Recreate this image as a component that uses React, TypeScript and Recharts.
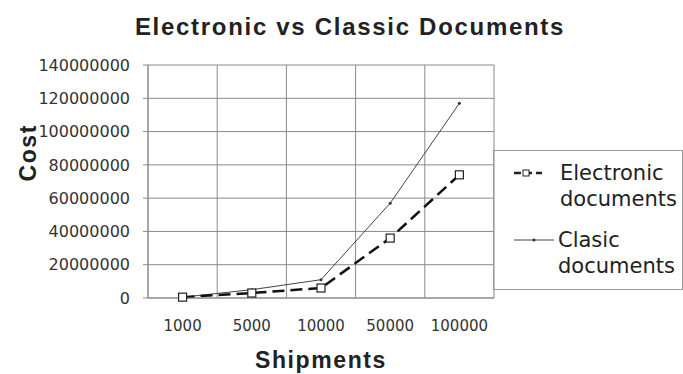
import { CartesianGrid, Legend, Line, LineChart, XAxis, YAxis } from 'recharts'

const shipments = ['1000', '5000', '10000', '50000', '100000']
const electronic = [500000, 3000000, 6000000, 36000000, 74000000]
const classic = [500000, 5000000, 11000000, 57000000, 117000000]
const costTicks = [0, 20000000, 40000000, 60000000, 80000000, 100000000, 120000000, 140000000]

const data = shipments.map((s, i) => ({
  shipments: s,
  electronic: electronic[i],
  classic: classic[i],
}))

const FONT = '"DejaVu Sans", sans-serif'
const TITLE_FONT = '"Liberation Sans", Arial, sans-serif'

const SquareDot = (props: any) => {
  const { cx, cy } = props
  if (cx == null || cy == null) return null
  return <rect x={cx - 4} y={cy - 4} width={8} height={8} fill="#fff" stroke="#222" strokeWidth={1.2} />
}

const SmallDot = (props: any) => {
  const { cx, cy } = props
  if (cx == null || cy == null) return null
  return <circle cx={cx} cy={cy} r={1.5} fill="#333" />
}

function LegendBox() {
  const row = { display: 'flex', alignItems: 'flex-start' } as const
  const txt = { fontFamily: FONT, fontSize: 21, lineHeight: '26px', color: '#222' }
  return (
    <div style={{ border: '1px solid #999', padding: '9px 0 10px 18px', boxSizing: 'border-box' }}>
      <div style={row}>
        <svg width={48} height={26}>
          <line x1={2} y1={13} x2={30} y2={13} stroke="#222" strokeWidth={2.5} strokeDasharray="7 4" />
          <rect x={11} y={10} width={6} height={6} fill="#fff" stroke="#222" />
        </svg>
        <div style={txt}>Electronic<br />documents</div>
      </div>
      <div style={{ ...row, marginTop: 15 }}>
        <svg width={46} height={26}>
          <line x1={2} y1={13} x2={42} y2={13} stroke="#444" strokeWidth={1} />
          <circle cx={22} cy={13} r={1.5} fill="#333" />
        </svg>
        <div style={txt}>Clasic<br />documents</div>
      </div>
    </div>
  )
}

export default function App() {
  return (
    <div style={{ position: 'absolute', left: 0, top: 0, width: 683, height: 374, background: '#fff' }}>
      <div
        style={{
          position: 'absolute',
          top: 13,
          left: 0,
          width: 700,
          textAlign: 'center',
          fontFamily: TITLE_FONT,
          fontWeight: 'bold',
          fontSize: 24,
          letterSpacing: 1.7,
          color: '#222',
        }}
      >
        Electronic vs Classic Documents
      </div>
      <LineChart
        width={683}
        height={374}
        data={data}
        margin={{ top: 65, right: 189, bottom: 36, left: 48 }}
      >
        <CartesianGrid
          stroke="#8a8a8a"
          verticalCoordinatesGenerator={({ offset }: any) =>
            shipments.concat('').map((_, i) => offset.left + (i * offset.width) / shipments.length)
          }
        />
        <XAxis
          dataKey="shipments"
          padding={{ left: 34.6, right: 34.6 }}
          tickLine={false}
          axisLine={{ stroke: '#8a8a8a' }}
          tick={{ fill: '#333', fontSize: 15, fontFamily: FONT }}
          tickMargin={16}
          height={40}
          label={{
            value: 'Shipments',
            position: 'insideBottom',
            offset: -30,
            fill: '#222',
            fontSize: 23,
            fontWeight: 'bold',
            fontFamily: TITLE_FONT,
            letterSpacing: 1.6,
          }}
        />
        <YAxis
          type="number"
          domain={[0, 140000000]}
          ticks={costTicks}
          interval={0}
          width={100}
          tickSize={5}
          tickMargin={13}
          tickLine={{ stroke: '#8a8a8a' }}
          axisLine={{ stroke: '#8a8a8a' }}
          tick={{ fill: '#333', fontSize: 16, fontFamily: FONT }}
          label={{
            value: 'Cost',
            angle: -90,
            position: 'insideLeft',
            offset: -20,
            fill: '#222',
            fontSize: 23,
            fontWeight: 'bold',
            fontFamily: TITLE_FONT,
            letterSpacing: 1.6,
          }}
        />
        <Legend
          layout="horizontal"
          verticalAlign="middle"
          align="center"
          content={() => <LegendBox />}
          wrapperStyle={{ left: 493, top: 150, width: 190, height: 126 }}
        />
        <Line
          dataKey="classic"
          name="Clasic documents"
          stroke="#444"
          strokeWidth={1}
          dot={<SmallDot />}
          isAnimationActive={false}
        />
        <Line
          dataKey="electronic"
          name="Electronic documents"
          stroke="#111"
          strokeWidth={2.5}
          strokeDasharray="12 6"
          dot={<SquareDot />}
          isAnimationActive={false}
        />
      </LineChart>
    </div>
  )
}
